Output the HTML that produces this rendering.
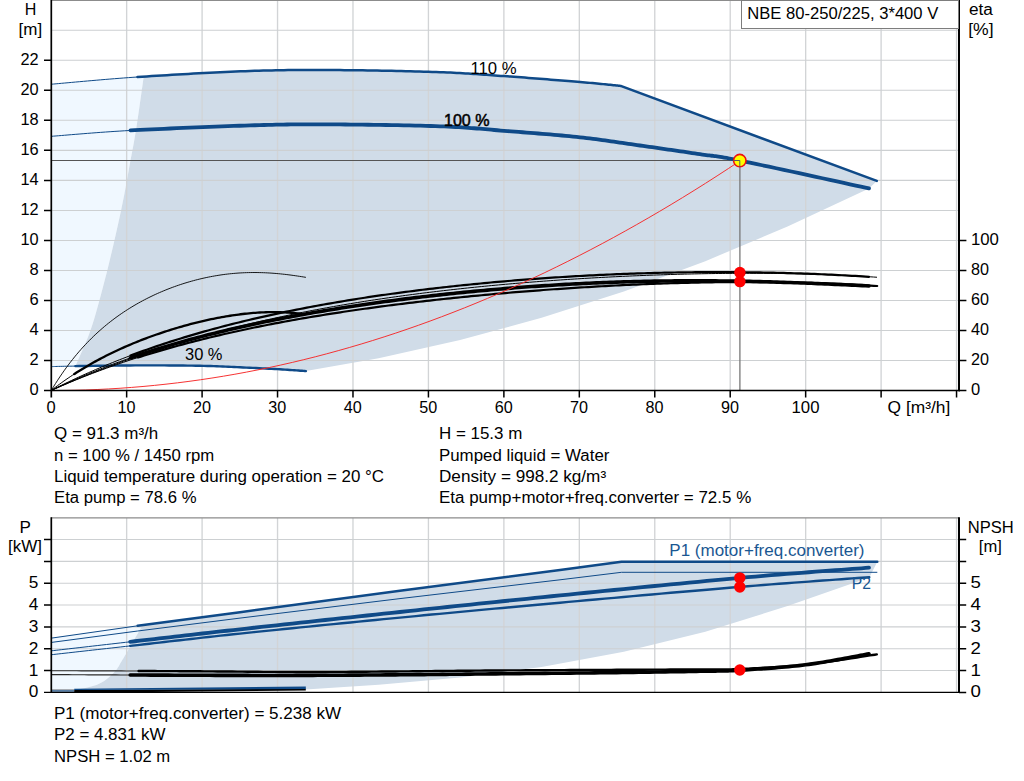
<!DOCTYPE html>
<html><head><meta charset="utf-8"><title>Pump curve</title><style>html,body{margin:0;padding:0;background:#fff}</style></head><body>
<svg width="1024" height="781" viewBox="0 0 1024 781" style="display:block;font-family:'Liberation Sans',sans-serif">
<rect width="1024" height="781" fill="#fff"/>
<path d="M51.60 84.20L53.70 84.02L56.08 83.81L58.73 83.57L61.63 83.31L64.76 83.03L68.11 82.72L71.66 82.40L75.39 82.06L79.29 81.71L83.34 81.35L87.52 80.97L91.82 80.60L96.21 80.22L100.69 79.83L105.24 79.45L109.83 79.07L114.46 78.70L119.10 78.33L123.74 77.98L128.37 77.64L132.96 77.31L137.50 77.00L142.08 76.70L143.70 76.59L143.70 76.80L143.09 81.04L142.28 86.83L141.30 93.74L140.22 101.34L139.10 109.19L137.99 116.87L136.93 123.95L136.00 130.00L135.17 135.06L134.40 139.58L133.66 143.68L132.94 147.51L132.23 151.22L131.52 154.94L130.78 158.82L130.00 163.00L129.20 167.41L128.40 171.90L127.59 176.45L126.77 181.06L125.92 185.73L125.05 190.45L124.15 195.20L123.20 200.00L122.22 204.82L121.21 209.67L120.18 214.56L119.11 219.50L118.01 224.50L116.88 229.58L115.71 234.74L114.50 240.00L113.25 245.39L111.96 250.90L110.63 256.51L109.26 262.19L107.87 267.91L106.44 273.63L104.98 279.34L103.50 285.00L101.99 290.69L100.46 296.46L98.90 302.27L97.31 308.06L95.69 313.78L94.03 319.38L92.34 324.80L90.60 330.00L88.71 335.19L86.61 340.50L84.40 345.78L82.19 350.86L80.09 355.60L78.19 359.82L76.59 363.38L75.40 366.10L75.40 366.10L72.17 366.15L69.25 366.19L66.63 366.24L64.29 366.28L62.19 366.33L60.32 366.37L58.65 366.41L57.16 366.45L55.83 366.49L54.63 366.52L53.54 366.55L52.54 366.58L51.60 366.60Z" fill="#f0f8ff"/>
<path d="M143.70 76.59L146.81 76.39L151.67 76.08L156.64 75.77L161.71 75.45L166.87 75.14L172.10 74.83L177.40 74.52L182.74 74.21L188.11 73.90L193.49 73.61L198.89 73.31L204.27 73.03L209.63 72.76L214.95 72.49L220.22 72.24L225.43 71.99L230.55 71.76L235.59 71.55L240.52 71.35L245.33 71.17L250.00 71.00L254.55 70.85L258.99 70.72L263.34 70.59L267.60 70.49L271.78 70.39L275.90 70.31L279.96 70.23L283.96 70.17L287.93 70.12L291.87 70.08L295.78 70.04L299.68 70.02L303.58 70.00L307.48 69.99L311.40 69.99L315.34 69.99L319.32 70.00L323.33 70.01L327.40 70.03L331.53 70.05L335.72 70.07L340.00 70.10L344.37 70.13L348.85 70.17L353.42 70.22L358.06 70.27L362.77 70.34L367.53 70.41L372.32 70.48L377.14 70.57L381.97 70.66L386.81 70.75L391.62 70.85L396.42 70.95L401.17 71.06L405.87 71.18L410.50 71.30L415.05 71.42L419.52 71.54L423.87 71.67L428.11 71.80L432.22 71.93L436.19 72.06L440.00 72.20L443.64 72.34L447.13 72.48L450.46 72.62L453.66 72.77L456.75 72.92L459.73 73.08L462.61 73.24L465.42 73.40L468.16 73.57L470.85 73.74L473.50 73.91L476.13 74.09L478.74 74.27L481.36 74.46L483.99 74.65L486.65 74.84L489.36 75.04L492.12 75.24L494.95 75.45L497.87 75.66L500.88 75.88L504.00 76.10L507.24 76.33L510.59 76.57L514.04 76.82L517.57 77.08L521.16 77.35L524.82 77.62L528.51 77.90L532.24 78.18L535.98 78.47L539.72 78.76L543.46 79.05L547.17 79.34L550.84 79.63L554.46 79.92L558.01 80.20L561.49 80.48L564.88 80.75L568.17 81.02L571.34 81.28L574.37 81.53L577.26 81.77L580.00 82.00L582.62 82.22L585.18 82.44L587.67 82.66L590.10 82.88L592.46 83.10L594.75 83.31L596.97 83.52L599.11 83.73L601.18 83.93L603.18 84.13L605.10 84.32L606.94 84.50L608.70 84.68L610.38 84.85L611.98 85.02L613.49 85.17L614.92 85.32L616.25 85.46L617.50 85.58L618.66 85.70L619.73 85.81L620.70 85.90L876.80 180.90L869.00 188.40L787.55 226.59L705.32 261.17L623.84 291.40L541.60 317.83L460.12 339.99L378.64 358.13L305.90 371.10L305.90 371.10L304.79 371.02L303.48 370.92L301.98 370.81L300.30 370.69L298.47 370.55L296.49 370.40L294.38 370.25L292.17 370.09L289.86 369.93L287.47 369.77L285.02 369.61L282.53 369.45L280.00 369.30L277.39 369.15L274.62 369.00L271.73 368.84L268.73 368.68L265.64 368.52L262.48 368.36L259.27 368.20L256.03 368.04L252.77 367.89L249.52 367.73L246.30 367.58L243.12 367.44L240.00 367.30L236.98 367.17L234.05 367.03L231.18 366.90L228.35 366.77L225.53 366.64L222.69 366.51L219.80 366.39L216.84 366.27L213.78 366.16L210.60 366.06L207.26 365.97L203.73 365.88L200.00 365.80L196.05 365.73L191.92 365.67L187.61 365.61L183.16 365.56L178.59 365.52L173.91 365.48L169.15 365.45L164.32 365.42L159.46 365.41L154.57 365.39L149.68 365.39L144.82 365.39L140.00 365.40L135.07 365.42L129.91 365.45L124.57 365.49L119.13 365.54L113.63 365.60L108.15 365.66L102.75 365.73L97.48 365.80L92.42 365.86L87.62 365.93L83.14 365.99L79.04 366.05L75.40 366.10L75.40 366.10L76.59 363.38L78.19 359.82L80.09 355.60L82.19 350.86L84.40 345.78L86.61 340.50L88.71 335.19L90.60 330.00L92.34 324.80L94.03 319.38L95.69 313.78L97.31 308.06L98.90 302.27L100.46 296.46L101.99 290.69L103.50 285.00L104.98 279.34L106.44 273.63L107.87 267.91L109.26 262.19L110.63 256.51L111.96 250.90L113.25 245.39L114.50 240.00L115.71 234.74L116.88 229.58L118.01 224.50L119.11 219.50L120.18 214.56L121.21 209.67L122.22 204.82L123.20 200.00L124.15 195.20L125.05 190.45L125.92 185.73L126.77 181.06L127.59 176.45L128.40 171.90L129.20 167.41L130.00 163.00L130.78 158.82L131.52 154.94L132.23 151.22L132.94 147.51L133.66 143.68L134.40 139.58L135.17 135.06L136.00 130.00L136.93 123.95L137.99 116.87L139.10 109.19L140.22 101.34L141.30 93.74L142.28 86.83L143.09 81.04L143.70 76.80Z" fill="#d0dce8"/>
<path d="M51.60 638.10L137.70 625.80L142.50 625.16L142.50 625.20L142.10 625.91L141.58 626.82L140.96 627.90L140.27 629.11L139.52 630.42L138.75 631.78L137.95 633.17L137.17 634.54L136.41 635.86L135.70 637.10L135.02 638.28L134.34 639.45L133.66 640.62L132.98 641.79L132.31 642.96L131.63 644.13L130.95 645.30L130.27 646.46L129.58 647.63L128.90 648.80L128.22 649.97L127.54 651.14L126.87 652.31L126.19 653.48L125.51 654.64L124.83 655.81L124.14 656.98L123.44 658.15L122.73 659.33L122.00 660.50L121.29 661.68L120.62 662.86L119.97 664.04L119.32 665.22L118.64 666.40L117.92 667.58L117.14 668.76L116.27 669.94L115.30 671.12L114.20 672.30L113.00 673.50L111.72 674.73L110.38 675.98L108.95 677.24L107.45 678.48L105.86 679.70L104.19 680.88L102.42 681.99L100.56 683.04L98.60 684.00L96.39 684.89L93.86 685.74L91.11 686.54L88.23 687.29L85.33 687.98L82.50 688.62L79.86 689.19L77.49 689.70L75.50 690.14L74.00 690.50L51.60 690.50Z" fill="#f0f8ff"/>
<path d="M142.50 625.16L240.00 612.20L400.00 590.80L560.00 570.00L621.50 561.80L877.30 561.80L869.30 577.60L787.55 606.04L705.32 631.86L623.84 651.79L541.60 666.89L460.12 677.61L378.64 684.81L305.70 689.50L74.00 690.50L75.50 690.14L77.49 689.70L79.86 689.19L82.50 688.62L85.33 687.98L88.23 687.29L91.11 686.54L93.86 685.74L96.39 684.89L98.60 684.00L100.56 683.04L102.42 681.99L104.19 680.88L105.86 679.70L107.45 678.48L108.95 677.24L110.38 675.98L111.72 674.73L113.00 673.50L114.20 672.30L115.30 671.12L116.27 669.94L117.14 668.76L117.92 667.58L118.64 666.40L119.32 665.22L119.97 664.04L120.62 662.86L121.29 661.68L122.00 660.50L122.73 659.33L123.44 658.15L124.14 656.98L124.83 655.81L125.51 654.64L126.19 653.48L126.87 652.31L127.54 651.14L128.22 649.97L128.90 648.80L129.58 647.63L130.27 646.46L130.95 645.30L131.63 644.13L132.31 642.96L132.98 641.79L133.66 640.62L134.34 639.45L135.02 638.28L135.70 637.10L136.41 635.86L137.17 634.54L137.95 633.17L138.75 631.78L139.52 630.42L140.27 629.11L140.96 627.90L141.58 626.82L142.10 625.91L142.50 625.20Z" fill="#d0dce8"/>
<path d="M126.65 0.5V390 M126.65 518V692 M202.09 0.5V390 M202.09 518V692 M277.54 0.5V390 M277.54 518V692 M352.98 0.5V390 M352.98 518V692 M428.43 0.5V390 M428.43 518V692 M503.88 0.5V390 M503.88 518V692 M579.32 0.5V390 M579.32 518V692 M654.77 0.5V390 M654.77 518V692 M730.21 0.5V390 M730.21 518V692 M805.66 0.5V390 M805.66 518V692 M881.11 0.5V390 M881.11 518V692 M956.55 0.5V390 M956.55 518V692" stroke="#d2d4d6" stroke-width="1.35" fill="none"/>
<path d="M52 360.53H958.5 M52 330.50H958.5 M52 300.48H958.5 M52 270.45H958.5 M52 240.43H958.5 M52 210.40H958.5 M52 180.38H958.5 M52 150.35H958.5 M52 120.33H958.5 M52 90.30H958.5 M52 60.28H958.5 M52 30.25H958.5 M52 670.56H958.5 M52 648.73H958.5 M52 626.89H958.5 M52 605.06H958.5 M52 583.22H958.5 M52 561.39H958.5 M52 539.55H958.5" stroke="#cdd0d2" stroke-width="1.05" fill="none"/>
<path d="M51 0.5H959 M51 517.8H959" stroke="#8c8c8c" stroke-width="1.2" fill="none"/>
<path d="M52 160.5H739.8" stroke="#555" stroke-width="1" fill="none"/>
<path d="M739.9 160.5V390" stroke="#777" stroke-width="1.3" fill="none"/>
<path d="M51.60 84.20L53.70 84.02L56.08 83.81L58.73 83.57L61.63 83.31L64.76 83.03L68.11 82.72L71.66 82.40L75.39 82.06L79.29 81.71L83.34 81.35L87.52 80.97L91.82 80.60L96.21 80.22L100.69 79.83L105.24 79.45L109.83 79.07L114.46 78.70L119.10 78.33L123.74 77.98L128.37 77.64L132.96 77.31L137.50 77.00" stroke="#0f4a88" stroke-width="1" fill="none"/>
<path d="M137.50 77.00L137.50 77.00L142.08 76.70L146.81 76.39L151.67 76.08L156.64 75.77L161.71 75.45L166.87 75.14L172.10 74.83L177.40 74.52L182.74 74.21L188.11 73.90L193.49 73.61L198.89 73.31L204.27 73.03L209.63 72.76L214.95 72.49L220.22 72.24L225.43 71.99L230.55 71.76L235.59 71.55L240.52 71.35L245.33 71.17L250.00 71.00L254.55 70.85L258.99 70.72L263.34 70.59L267.60 70.49L271.78 70.39L275.90 70.31L279.96 70.23L283.96 70.17L287.93 70.12L291.87 70.08L295.78 70.04L299.68 70.02L303.58 70.00L307.48 69.99L311.40 69.99L315.34 69.99L319.32 70.00L323.33 70.01L327.40 70.03L331.53 70.05L335.72 70.07L340.00 70.10L344.37 70.13L348.85 70.17L353.42 70.22L358.06 70.27L362.77 70.34L367.53 70.41L372.32 70.48L377.14 70.57L381.97 70.66L386.81 70.75L391.62 70.85L396.42 70.95L401.17 71.06L405.87 71.18L410.50 71.30L415.05 71.42L419.52 71.54L423.87 71.67L428.11 71.80L432.22 71.93L436.19 72.06L440.00 72.20L443.64 72.34L447.13 72.48L450.46 72.62L453.66 72.77L456.75 72.92L459.73 73.08L462.61 73.24L465.42 73.40L468.16 73.57L470.85 73.74L473.50 73.91L476.13 74.09L478.74 74.27L481.36 74.46L483.99 74.65L486.65 74.84L489.36 75.04L492.12 75.24L494.95 75.45L497.87 75.66L500.88 75.88L504.00 76.10L507.24 76.33L510.59 76.57L514.04 76.82L517.57 77.08L521.16 77.35L524.82 77.62L528.51 77.90L532.24 78.18L535.98 78.47L539.72 78.76L543.46 79.05L547.17 79.34L550.84 79.63L554.46 79.92L558.01 80.20L561.49 80.48L564.88 80.75L568.17 81.02L571.34 81.28L574.37 81.53L577.26 81.77L580.00 82.00L582.62 82.22L585.18 82.44L587.67 82.66L590.10 82.88L592.46 83.10L594.75 83.31L596.97 83.52L599.11 83.73L601.18 83.93L603.18 84.13L605.10 84.32L606.94 84.50L608.70 84.68L610.38 84.85L611.98 85.02L613.49 85.17L614.92 85.32L616.25 85.46L617.50 85.58L618.66 85.70L619.73 85.81L620.70 85.90L876.80 180.90" stroke="#0f4a88" stroke-width="2.5" fill="none" stroke-linecap="round" stroke-linejoin="round"/>
<path d="M51.60 136.30L53.69 136.14L56.06 135.95L58.68 135.74L61.55 135.50L64.64 135.24L67.96 134.96L71.48 134.67L75.19 134.36L79.08 134.05L83.13 133.72L87.33 133.39L91.67 133.05L96.14 132.71L100.71 132.37L105.38 132.04L110.13 131.71L114.95 131.39L119.83 131.08L124.75 130.78L129.70 130.50L130.50 130.46" stroke="#0f4a88" stroke-width="1" fill="none"/>
<path d="M130.50 130.46L134.81 130.22L140.20 129.94L145.84 129.66L151.70 129.37L157.75 129.08L163.96 128.79L170.29 128.50L176.72 128.21L183.21 127.93L189.73 127.65L196.26 127.38L202.76 127.11L209.19 126.85L215.54 126.61L221.77 126.37L227.84 126.15L233.74 125.94L239.41 125.74L244.84 125.56L250.00 125.40L254.87 125.25L259.50 125.12L263.90 125.00L268.10 124.89L272.13 124.79L276.02 124.71L279.79 124.63L283.46 124.57L287.07 124.51L290.64 124.46L294.20 124.42L297.77 124.39L301.39 124.37L305.06 124.36L308.84 124.35L312.72 124.35L316.76 124.35L320.97 124.36L325.37 124.38L330.00 124.40L334.88 124.43L339.99 124.46L345.31 124.50L350.82 124.55L356.47 124.61L362.24 124.67L368.11 124.75L374.05 124.83L380.02 124.91L386.00 125.01L391.96 125.11L397.87 125.21L403.71 125.33L409.44 125.45L415.03 125.57L420.46 125.71L425.71 125.85L430.73 125.99L435.50 126.14L440.00 126.30L444.22 126.46L448.21 126.64L451.98 126.81L455.55 127.00L458.95 127.20L462.20 127.40L465.32 127.60L468.34 127.82L471.26 128.04L474.12 128.26L476.94 128.49L479.74 128.73L482.54 128.97L485.37 129.22L488.23 129.47L491.17 129.73L494.19 129.99L497.32 130.26L500.58 130.53L504.00 130.80L507.55 131.08L511.19 131.36L514.90 131.65L518.69 131.94L522.53 132.24L526.42 132.55L530.35 132.86L534.30 133.17L538.27 133.49L542.25 133.82L546.22 134.15L550.18 134.48L554.11 134.82L558.00 135.16L561.84 135.51L565.63 135.86L569.35 136.21L572.99 136.57L576.55 136.93L580.00 137.30L583.36 137.67L586.65 138.05L589.87 138.43L593.02 138.82L596.12 139.22L599.18 139.62L602.18 140.02L605.15 140.43L608.09 140.85L611.00 141.26L613.89 141.68L616.77 142.10L619.64 142.53L622.50 142.95L625.38 143.38L628.26 143.80L631.15 144.23L634.07 144.65L637.02 145.08L640.00 145.50L643.02 145.93L646.09 146.36L649.19 146.80L652.32 147.24L655.47 147.69L658.63 148.15L661.80 148.60L664.96 149.05L668.11 149.51L671.25 149.96L674.36 150.41L677.44 150.86L680.48 151.31L683.47 151.74L686.41 152.18L689.28 152.60L692.08 153.01L694.81 153.42L697.45 153.82L700.00 154.20L702.35 154.55L704.41 154.84L706.23 155.08L707.86 155.28L709.32 155.46L710.67 155.61L711.94 155.76L713.17 155.90L714.41 156.04L715.69 156.21L717.06 156.39L718.55 156.61L720.22 156.87L722.09 157.18L724.21 157.55L726.62 157.99L729.37 158.50L732.49 159.10L736.02 159.80L740.00 160.60L744.60 161.54L749.88 162.64L755.76 163.88L762.17 165.24L769.02 166.70L776.22 168.24L783.71 169.85L791.38 171.51L799.18 173.20L807.00 174.90L814.77 176.59L822.42 178.25L829.84 179.87L836.98 181.43L843.73 182.90L850.03 184.28L855.79 185.53L860.92 186.65L865.35 187.61L869.00 188.40" stroke="#0f4a88" stroke-width="3.8" fill="none" stroke-linecap="round"/>
<path d="M51.60 366.60L52.54 366.58L53.54 366.55L54.63 366.52L55.83 366.49L57.16 366.45L58.65 366.41L60.32 366.37L62.19 366.33L64.29 366.28L66.63 366.24L69.25 366.19L72.17 366.15L75.40 366.10" stroke="#0f4a88" stroke-width="1" fill="none"/>
<path d="M75.40 366.10L75.40 366.10L79.04 366.05L83.14 365.99L87.62 365.93L92.42 365.86L97.48 365.80L102.75 365.73L108.15 365.66L113.63 365.60L119.13 365.54L124.57 365.49L129.91 365.45L135.07 365.42L140.00 365.40L144.82 365.39L149.68 365.39L154.57 365.39L159.46 365.41L164.32 365.42L169.15 365.45L173.91 365.48L178.59 365.52L183.16 365.56L187.61 365.61L191.92 365.67L196.05 365.73L200.00 365.80L203.73 365.88L207.26 365.97L210.60 366.06L213.78 366.16L216.84 366.27L219.80 366.39L222.69 366.51L225.53 366.64L228.35 366.77L231.18 366.90L234.05 367.03L236.98 367.17L240.00 367.30L243.12 367.44L246.30 367.58L249.52 367.73L252.77 367.89L256.03 368.04L259.27 368.20L262.48 368.36L265.64 368.52L268.73 368.68L271.73 368.84L274.62 369.00L277.39 369.15L280.00 369.30L282.53 369.45L285.02 369.61L287.47 369.77L289.86 369.93L292.17 370.09L294.38 370.25L296.49 370.40L298.47 370.55L300.30 370.69L301.98 370.81L303.48 370.92L304.79 371.02L305.90 371.10" stroke="#0f4a88" stroke-width="2.4" fill="none" stroke-linecap="round"/>
<path d="M51.30 390.40L53.42 386.90L55.54 383.50L57.66 380.20L59.79 376.99L61.91 373.87L64.03 370.83L66.15 367.88L68.27 365.02L70.39 362.23L72.52 359.52L74.64 356.88L76.76 354.31L78.88 351.82L81.00 349.39L83.12 347.03L85.25 344.73L87.37 342.50L89.49 340.32L91.61 338.20L93.73 336.14L95.85 334.13L97.98 332.17L100.10 330.27L102.22 328.41L104.34 326.60L106.46 324.84L108.58 323.12L110.71 321.45L112.83 319.82L114.95 318.23L117.07 316.68L119.19 315.17L121.31 313.70L123.44 312.26L125.56 310.86L127.68 309.49L129.80 308.16L131.92 306.86L134.04 305.59L136.17 304.35L138.29 303.14L140.41 301.97L142.53 300.82L144.65 299.70L146.77 298.60L148.90 297.54L151.02 296.50L153.14 295.48L155.26 294.49L157.38 293.53L159.50 292.59L161.63 291.68L163.75 290.79L165.87 289.92L167.99 289.07L170.11 288.25L172.23 287.45L174.36 286.68L176.48 285.92L178.60 285.19L180.72 284.48L182.84 283.79L184.96 283.12L187.09 282.47L189.21 281.85L191.33 281.24L193.45 280.66L195.57 280.09L197.69 279.55L199.82 279.03L201.94 278.52L204.06 278.04L206.18 277.58L208.30 277.14L210.42 276.72L212.55 276.32L214.67 275.94L216.79 275.58L218.91 275.24L221.03 274.92L223.15 274.62L225.28 274.34L227.40 274.08L229.52 273.84L231.64 273.63L233.76 273.43L235.88 273.25L238.01 273.09L240.13 272.95L242.25 272.83L244.37 272.73L246.49 272.65L248.61 272.59L250.74 272.55L252.86 272.53L254.98 272.53L257.10 272.54L259.22 272.58L261.34 272.63L263.47 272.70L265.59 272.79L267.71 272.90L269.83 273.02L271.95 273.16L274.07 273.32L276.20 273.49L278.32 273.68L280.44 273.89L282.56 274.11L284.68 274.34L286.80 274.59L288.93 274.85L291.05 275.12L293.17 275.41L295.29 275.71L297.41 276.02L299.53 276.34L301.66 276.67L303.78 277.00L305.90 277.35" stroke="#000" stroke-width="0.9" fill="none"/>
<path d="M51.30 390.40L53.40 388.77L55.51 387.17L57.61 385.59L59.72 384.05L61.82 382.52L63.92 381.03L66.03 379.56L68.13 378.11L70.24 376.69L72.34 375.30L74.10 374.15" stroke="#000" stroke-width="1" fill="none"/>
<path d="M74.10 374.15L74.45 373.92L76.55 372.57L78.65 371.25L80.76 369.94L82.86 368.66L84.97 367.39L87.07 366.15L89.17 364.93L91.28 363.73L93.38 362.54L95.49 361.38L97.59 360.23L99.70 359.11L101.80 358.00L103.90 356.91L106.01 355.83L108.11 354.78L110.22 353.74L112.32 352.71L114.42 351.71L116.53 350.71L118.63 349.74L120.74 348.78L122.84 347.83L124.95 346.90L127.05 345.98L129.15 345.08L131.26 344.19L133.36 343.31L135.47 342.45L137.57 341.60L139.68 340.76L141.78 339.94L143.88 339.12L145.99 338.33L148.09 337.54L150.20 336.77L152.30 336.00L154.40 335.25L156.51 334.51L158.61 333.79L160.72 333.07L162.82 332.37L164.93 331.67L167.03 330.99L169.13 330.32L171.24 329.66L173.34 329.01L175.45 328.38L177.55 327.75L179.65 327.14L181.76 326.53L183.86 325.94L185.97 325.35L188.07 324.78L190.18 324.22L192.28 323.67L194.38 323.13L196.49 322.61L198.59 322.09L200.70 321.58L202.80 321.09L204.90 320.61L207.01 320.14L209.11 319.68L211.22 319.23L213.32 318.79L215.43 318.37L217.53 317.95L219.63 317.55L221.74 317.16L223.84 316.79L225.95 316.43L228.05 316.08L230.15 315.74L232.26 315.41L234.36 315.10L236.47 314.81L238.57 314.52L240.68 314.26L242.78 314.00L244.88 313.76L246.99 313.54L249.09 313.33L251.20 313.13L253.30 312.95L255.40 312.79L257.51 312.65L259.61 312.52L261.72 312.40L263.82 312.31L265.93 312.23L268.03 312.17L270.13 312.13L272.24 312.11L274.34 312.11L276.45 312.12L278.55 312.16L280.65 312.22L282.76 312.29L284.86 312.39L286.97 312.51L289.07 312.66L291.18 312.82L293.28 313.01L295.38 313.22L297.49 313.46L299.59 313.72L301.70 314.00L303.80 314.31" stroke="#000" stroke-width="2.3" fill="none" stroke-linecap="round"/>
<path d="M51.30 390.40L54.74 388.86L58.18 387.34L61.62 385.83L65.06 384.34L68.50 382.86L71.94 381.40L75.38 379.95L78.82 378.52L82.26 377.10L85.70 375.70L89.14 374.31L92.59 372.93L96.03 371.57L99.47 370.23L102.91 368.90L106.35 367.58L109.79 366.28L113.23 364.99L116.67 363.71L120.11 362.45L123.55 361.20L126.99 359.97L130.43 358.75L133.87 357.54L137.31 356.34L140.75 355.16L144.19 353.99L147.63 352.83L151.07 351.69L154.51 350.56L157.95 349.44L161.39 348.33L164.83 347.24L168.27 346.16L171.71 345.09L175.16 344.03L178.60 342.98L182.04 341.95L185.48 340.93L188.92 339.91L192.36 338.91L195.80 337.93L199.24 336.95L202.68 335.98L206.12 335.03L209.56 334.08L213.00 333.15L216.44 332.23L219.88 331.31L223.32 330.41L226.76 329.52L230.20 328.64L233.64 327.77L237.08 326.91L240.52 326.06L243.96 325.22L247.40 324.39L250.84 323.57L254.28 322.76L257.73 321.96L261.17 321.17L264.61 320.38L268.05 319.61L271.49 318.85L274.93 318.09L278.37 317.35L281.81 316.61L285.25 315.88L288.69 315.16L292.13 314.45L295.57 313.75L299.01 313.06L302.45 312.38L305.89 311.70L309.33 311.03L312.77 310.37L316.21 309.72L319.65 309.08L323.09 308.44L326.53 307.82L329.97 307.20L333.41 306.58L336.85 305.98L340.30 305.38L343.74 304.79L347.18 304.21L350.62 303.64L354.06 303.07L357.50 302.51L360.94 301.96L364.38 301.41L367.82 300.87L371.26 300.34L374.70 299.82L378.14 299.30L381.58 298.79L385.02 298.28L388.46 297.78L391.90 297.29L395.34 296.81L398.78 296.33L402.22 295.85L405.66 295.39L409.10 294.93L412.54 294.47L415.98 294.02L419.42 293.58L422.87 293.14L426.31 292.71L429.75 292.29L433.19 291.87L436.63 291.46L440.07 291.05L443.51 290.65L446.95 290.25L450.39 289.86L453.83 289.47L457.27 289.09L460.71 288.72L464.15 288.35L467.59 287.98L471.03 287.62L474.47 287.27L477.91 286.92L481.35 286.58L484.79 286.24L488.23 285.90L491.67 285.57L495.11 285.25L498.55 284.93L501.99 284.62L505.44 284.31L508.88 284.00L512.32 283.70L515.76 283.40L519.20 283.11L522.64 282.83L526.08 282.54L529.52 282.27L532.96 281.99L536.40 281.72L539.84 281.46L543.28 281.20L546.72 280.94L550.16 280.69L553.60 280.45L557.04 280.20L560.48 279.96L563.92 279.73L567.36 279.50L570.80 279.28L574.24 279.05L577.68 278.84L581.12 278.62L584.56 278.41L588.00 278.21L591.45 278.01L594.89 277.81L598.33 277.62L601.77 277.43L605.21 277.25L608.65 277.07L612.09 276.89L615.53 276.72L618.97 276.55L622.41 276.39L625.85 276.23L629.29 276.07L632.73 275.92L636.17 275.77L639.61 275.63L643.05 275.49L646.49 275.35L649.93 275.22L653.37 275.10L656.81 274.97L660.25 274.86L663.69 274.74L667.13 274.63L670.57 274.52L674.02 274.42L677.46 274.32L680.90 274.23L684.34 274.14L687.78 274.06L691.22 273.98L694.66 273.90L698.10 273.83L701.54 273.76L704.98 273.70L708.42 273.64L711.86 273.58L715.30 273.53L718.74 273.49L722.18 273.45L725.62 273.41L729.06 273.38L732.50 273.36L735.94 273.33L739.38 273.32L742.82 273.30L746.26 273.30L749.70 273.30L753.14 273.30L756.59 273.31L760.03 273.32L763.47 273.34L766.91 273.36L770.35 273.39L773.79 273.42L777.23 273.46L780.67 273.51L784.11 273.56L787.55 273.61L790.99 273.67L794.43 273.74L797.87 273.81L801.31 273.89L804.75 273.97L808.19 274.06L811.63 274.16L815.07 274.26L818.51 274.37L821.95 274.49L825.39 274.61L828.83 274.74L832.27 274.87L835.72 275.01L839.16 275.16L842.60 275.31L846.04 275.47L849.48 275.64L852.92 275.82L856.36 276.00L859.80 276.19L863.24 276.39L866.68 276.59L870.12 276.80L873.56 277.02L877.00 277.25" stroke="#000" stroke-width="1" fill="none"/>
<path d="M51.30 390.40L54.71 388.67L58.11 386.96L61.52 385.28L64.93 383.61L68.34 381.97L71.74 380.35L75.15 378.75L78.56 377.18L81.96 375.62L85.37 374.09L88.78 372.57L92.19 371.08L95.59 369.60L99.00 368.15L102.41 366.71L105.81 365.29L109.22 363.90L112.63 362.52L116.03 361.16L119.44 359.81L122.85 358.49L126.26 357.18L129.66 355.89L130.50 355.58" stroke="#000" stroke-width="1" fill="none"/>
<path d="M130.50 355.58L133.07 354.62L136.48 353.36L139.88 352.12L143.29 350.90L146.70 349.69L150.11 348.50L153.51 347.32L156.92 346.16L160.33 345.02L163.73 343.89L167.14 342.77L170.55 341.67L173.95 340.59L177.36 339.51L180.77 338.46L184.18 337.41L187.58 336.38L190.99 335.37L194.40 334.36L197.80 333.37L201.21 332.40L204.62 331.43L208.03 330.48L211.43 329.54L214.84 328.61L218.25 327.70L221.65 326.80L225.06 325.91L228.47 325.03L231.88 324.16L235.28 323.30L238.69 322.45L242.10 321.62L245.50 320.79L248.91 319.98L252.32 319.18L255.73 318.38L259.13 317.60L262.54 316.83L265.95 316.07L269.35 315.31L272.76 314.57L276.17 313.84L279.57 313.11L282.98 312.40L286.39 311.69L289.80 310.99L293.20 310.31L296.61 309.63L300.02 308.96L303.42 308.30L306.83 307.64L310.24 307.00L313.65 306.36L317.05 305.73L320.46 305.11L323.87 304.50L327.27 303.89L330.68 303.30L334.09 302.71L337.50 302.12L340.90 301.55L344.31 300.98L347.72 300.42L351.12 299.87L354.53 299.32L357.94 298.78L361.34 298.25L364.75 297.73L368.16 297.21L371.57 296.70L374.97 296.19L378.38 295.69L381.79 295.20L385.19 294.72L388.60 294.24L392.01 293.76L395.42 293.30L398.82 292.84L402.23 292.38L405.64 291.93L409.04 291.49L412.45 291.05L415.86 290.62L419.27 290.20L422.67 289.78L426.08 289.36L429.49 288.95L432.89 288.55L436.30 288.15L439.71 287.76L443.11 287.38L446.52 287.00L449.93 286.62L453.34 286.25L456.74 285.89L460.15 285.53L463.56 285.17L466.96 284.82L470.37 284.48L473.78 284.14L477.19 283.80L480.59 283.48L484.00 283.15L487.41 282.83L490.81 282.52L494.22 282.21L497.63 281.90L501.04 281.60L504.44 281.31L507.85 281.02L511.26 280.74L514.66 280.45L518.07 280.18L521.48 279.91L524.88 279.64L528.29 279.38L531.70 279.12L535.11 278.87L538.51 278.62L541.92 278.38L545.33 278.14L548.73 277.91L552.14 277.68L555.55 277.46L558.96 277.24L562.36 277.02L565.77 276.81L569.18 276.61L572.58 276.40L575.99 276.21L579.40 276.02L582.80 275.83L586.21 275.64L589.62 275.47L593.03 275.29L596.43 275.12L599.84 274.96L603.25 274.80L606.65 274.64L610.06 274.49L613.47 274.34L616.88 274.20L620.28 274.06L623.69 273.93L627.10 273.80L630.50 273.68L633.91 273.56L637.32 273.44L640.73 273.33L644.13 273.23L647.54 273.13L650.95 273.03L654.35 272.94L657.76 272.85L661.17 272.77L664.57 272.69L667.98 272.62L671.39 272.55L674.80 272.48L678.20 272.42L681.61 272.37L685.02 272.32L688.42 272.27L691.83 272.23L695.24 272.20L698.65 272.16L702.05 272.14L705.46 272.12L708.87 272.10L712.27 272.09L715.68 272.08L719.09 272.08L722.50 272.08L725.90 272.08L729.31 272.10L732.72 272.11L736.12 272.13L739.53 272.16L742.94 272.19L746.35 272.23L749.75 272.27L753.16 272.31L756.57 272.36L759.97 272.42L763.38 272.48L766.79 272.54L770.19 272.61L773.60 272.69L777.01 272.77L780.42 272.85L783.82 272.94L787.23 273.04L790.64 273.14L794.04 273.24L797.45 273.35L800.86 273.46L804.27 273.58L807.67 273.71L811.08 273.84L814.49 273.97L817.89 274.11L821.30 274.25L824.71 274.40L828.12 274.56L831.52 274.72L834.93 274.88L838.34 275.05L841.74 275.23L845.15 275.41L848.56 275.59L851.96 275.78L855.37 275.97L858.78 276.17L862.19 276.38L865.59 276.59L869.00 276.80" stroke="#000" stroke-width="2.2" fill="none" stroke-linecap="round"/>
<path d="M51.30 390.40L54.74 388.87L58.18 387.36L61.62 385.87L65.06 384.41L68.51 382.96L71.95 381.53L75.39 380.12L78.83 378.73L82.27 377.35L85.71 376.00L89.15 374.66L92.59 373.34L96.04 372.04L99.48 370.76L102.92 369.49L106.36 368.25L109.80 367.01L113.24 365.80L116.68 364.60L120.12 363.41L123.57 362.24L127.01 361.09L130.45 359.95L133.89 358.83L137.33 357.72L138.00 357.51" stroke="#000" stroke-width="1" fill="none"/>
<path d="M138.00 357.51L140.77 356.63L144.21 355.55L147.66 354.49L151.10 353.44L154.54 352.40L157.98 351.38L161.42 350.37L164.86 349.37L168.30 348.39L171.74 347.42L175.19 346.46L178.63 345.52L182.07 344.59L185.51 343.66L188.95 342.76L192.39 341.86L195.83 340.97L199.27 340.10L202.72 339.24L206.16 338.39L209.60 337.55L213.04 336.72L216.48 335.90L219.92 335.09L223.36 334.29L226.80 333.50L230.25 332.72L233.69 331.96L237.13 331.20L240.57 330.45L244.01 329.71L247.45 328.98L250.89 328.26L254.33 327.54L257.78 326.84L261.22 326.14L264.66 325.46L268.10 324.78L271.54 324.11L274.98 323.45L278.42 322.80L281.86 322.15L285.31 321.51L288.75 320.88L292.19 320.26L295.63 319.65L299.07 319.04L302.51 318.44L305.95 317.85L309.39 317.26L312.84 316.68L316.28 316.11L319.72 315.55L323.16 314.99L326.60 314.44L330.04 313.89L333.48 313.35L336.92 312.82L340.37 312.29L343.81 311.77L347.25 311.26L350.69 310.75L354.13 310.25L357.57 309.75L361.01 309.26L364.45 308.78L367.90 308.30L371.34 307.82L374.78 307.36L378.22 306.89L381.66 306.43L385.10 305.98L388.54 305.53L391.98 305.09L395.43 304.65L398.87 304.22L402.31 303.80L405.75 303.37L409.19 302.96L412.63 302.54L416.07 302.13L419.51 301.73L422.96 301.33L426.40 300.94L429.84 300.55L433.28 300.16L436.72 299.78L440.16 299.41L443.60 299.03L447.04 298.67L450.49 298.30L453.93 297.94L457.37 297.59L460.81 297.24L464.25 296.89L467.69 296.55L471.13 296.21L474.57 295.88L478.02 295.55L481.46 295.22L484.90 294.90L488.34 294.58L491.78 294.27L495.22 293.96L498.66 293.65L502.10 293.35L505.55 293.05L508.99 292.76L512.43 292.47L515.87 292.18L519.31 291.90L522.75 291.62L526.19 291.34L529.63 291.07L533.08 290.80L536.52 290.54L539.96 290.28L543.40 290.02L546.84 289.77L550.28 289.52L553.72 289.27L557.16 289.03L560.61 288.80L564.05 288.56L567.49 288.33L570.93 288.11L574.37 287.88L577.81 287.67L581.25 287.45L584.69 287.24L588.13 287.03L591.58 286.83L595.02 286.63L598.46 286.44L601.90 286.25L605.34 286.06L608.78 285.88L612.22 285.70L615.66 285.52L619.11 285.35L622.55 285.18L625.99 285.02L629.43 284.86L632.87 284.70L636.31 284.55L639.75 284.40L643.20 284.26L646.64 284.12L650.08 283.99L653.52 283.86L656.96 283.73L660.40 283.61L663.84 283.49L667.28 283.38L670.73 283.27L674.17 283.16L677.61 283.06L681.05 282.97L684.49 282.87L687.93 282.79L691.37 282.70L694.81 282.63L698.25 282.55L701.70 282.48L705.14 282.42L708.58 282.36L712.02 282.30L715.46 282.25L718.90 282.21L722.34 282.17L725.79 282.13L729.23 282.10L732.67 282.08L736.11 282.06L739.55 282.04L742.99 282.03L746.43 282.02L749.87 282.02L753.31 282.03L756.76 282.04L760.20 282.05L763.64 282.07L767.08 282.10L770.52 282.13L773.96 282.17L777.40 282.21L780.85 282.26L784.29 282.31L787.73 282.37L791.17 282.43L794.61 282.50L798.05 282.58L801.49 282.66L804.93 282.75L808.38 282.84L811.82 282.94L815.26 283.04L818.70 283.15L822.14 283.27L825.58 283.39L829.02 283.52L832.46 283.66L835.90 283.80L839.35 283.95L842.79 284.10L846.23 284.26L849.67 284.43L853.11 284.60L856.55 284.78L859.99 284.97L863.44 285.16L866.88 285.36L870.32 285.56L873.76 285.78L877.20 285.99" stroke="#000" stroke-width="2.2" fill="none" stroke-linecap="round"/>
<path d="M51.30 390.40L54.71 388.76L58.11 387.15L61.52 385.56L64.93 383.99L68.34 382.45L71.74 380.93L75.15 379.43L78.56 377.95L81.96 376.50L85.37 375.06L88.78 373.65L92.19 372.25L95.59 370.88L99.00 369.53L102.41 368.19L105.81 366.88L109.22 365.58L112.63 364.30L116.03 363.04L119.44 361.80L122.85 360.58L126.26 359.37L129.66 358.18L130.50 357.89" stroke="#000" stroke-width="1" fill="none"/>
<path d="M130.50 357.89L133.07 357.00L136.48 355.85L139.88 354.71L143.29 353.58L146.70 352.47L150.11 351.37L153.51 350.29L156.92 349.23L160.33 348.18L163.73 347.14L167.14 346.12L170.55 345.11L173.95 344.12L177.36 343.13L180.77 342.17L184.18 341.21L187.58 340.27L190.99 339.34L194.40 338.42L197.80 337.51L201.21 336.62L204.62 335.73L208.03 334.86L211.43 334.00L214.84 333.15L218.25 332.31L221.65 331.48L225.06 330.66L228.47 329.86L231.88 329.06L235.28 328.27L238.69 327.50L242.10 326.73L245.50 325.97L248.91 325.22L252.32 324.48L255.73 323.75L259.13 323.03L262.54 322.32L265.95 321.61L269.35 320.92L272.76 320.23L276.17 319.55L279.57 318.88L282.98 318.22L286.39 317.56L289.80 316.91L293.20 316.27L296.61 315.64L300.02 315.02L303.42 314.40L306.83 313.79L310.24 313.19L313.65 312.59L317.05 312.00L320.46 311.42L323.87 310.85L327.27 310.28L330.68 309.72L334.09 309.16L337.50 308.61L340.90 308.07L344.31 307.54L347.72 307.01L351.12 306.48L354.53 305.97L357.94 305.45L361.34 304.95L364.75 304.45L368.16 303.96L371.57 303.47L374.97 302.99L378.38 302.51L381.79 302.04L385.19 301.58L388.60 301.12L392.01 300.67L395.42 300.22L398.82 299.78L402.23 299.34L405.64 298.91L409.04 298.48L412.45 298.06L415.86 297.65L419.27 297.24L422.67 296.83L426.08 296.43L429.49 296.04L432.89 295.65L436.30 295.26L439.71 294.89L443.11 294.51L446.52 294.14L449.93 293.78L453.34 293.42L456.74 293.07L460.15 292.72L463.56 292.38L466.96 292.04L470.37 291.71L473.78 291.38L477.19 291.06L480.59 290.74L484.00 290.42L487.41 290.12L490.81 289.81L494.22 289.52L497.63 289.22L501.04 288.93L504.44 288.65L507.85 288.37L511.26 288.10L514.66 287.83L518.07 287.57L521.48 287.31L524.88 287.06L528.29 286.81L531.70 286.57L535.11 286.33L538.51 286.10L541.92 285.87L545.33 285.64L548.73 285.43L552.14 285.21L555.55 285.01L558.96 284.80L562.36 284.60L565.77 284.41L569.18 284.22L572.58 284.04L575.99 283.86L579.40 283.69L582.80 283.52L586.21 283.36L589.62 283.20L593.03 283.05L596.43 282.90L599.84 282.76L603.25 282.62L606.65 282.49L610.06 282.36L613.47 282.24L616.88 282.12L620.28 282.01L623.69 281.90L627.10 281.80L630.50 281.70L633.91 281.61L637.32 281.53L640.73 281.44L644.13 281.37L647.54 281.30L650.95 281.23L654.35 281.17L657.76 281.11L661.17 281.06L664.57 281.01L667.98 280.97L671.39 280.93L674.80 280.90L678.20 280.88L681.61 280.85L685.02 280.84L688.42 280.83L691.83 280.82L695.24 280.82L698.65 280.82L702.05 280.82L705.46 280.84L708.87 280.85L712.27 280.87L715.68 280.90L719.09 280.93L722.50 280.97L725.90 281.01L729.31 281.05L732.72 281.10L736.12 281.15L739.53 281.21L742.94 281.27L746.35 281.34L749.75 281.41L753.16 281.48L756.57 281.56L759.97 281.64L763.38 281.73L766.79 281.82L770.19 281.91L773.60 282.01L777.01 282.11L780.42 282.22L783.82 282.33L787.23 282.44L790.64 282.56L794.04 282.68L797.45 282.80L800.86 282.93L804.27 283.06L807.67 283.19L811.08 283.32L814.49 283.46L817.89 283.60L821.30 283.75L824.71 283.89L828.12 284.04L831.52 284.19L834.93 284.35L838.34 284.50L841.74 284.66L845.15 284.82L848.56 284.98L851.96 285.14L855.37 285.30L858.78 285.47L862.19 285.64L865.59 285.80L869.00 285.97" stroke="#000" stroke-width="3.6" fill="none" stroke-linecap="round"/>
<path d="M51.20 390.55L62.68 390.49L74.16 390.29L85.64 389.98L97.12 389.53L108.60 388.95L120.08 388.25L131.56 387.42L143.04 386.47L154.52 385.38L166.00 384.17L177.48 382.83L188.96 381.36L200.44 379.77L211.93 378.04L223.41 376.19L234.89 374.22L246.37 372.11L257.85 369.88L269.33 367.52L280.81 365.03L292.29 362.41L303.77 359.67L315.25 356.80L326.73 353.80L338.21 350.67L349.69 347.42L361.17 344.04L372.65 340.53L384.13 336.89L395.61 333.13L407.09 329.24L418.57 325.22L430.05 321.07L441.53 316.79L453.01 312.39L464.49 307.86L475.97 303.20L487.45 298.42L498.93 293.51L510.41 288.46L521.90 283.30L533.38 278.00L544.86 272.58L556.34 267.03L567.82 261.35L579.30 255.54L590.78 249.61L602.26 243.55L613.74 237.36L625.22 231.04L636.70 224.60L648.18 218.03L659.66 211.33L671.14 204.50L682.62 197.55L694.10 190.46L705.58 183.25L717.06 175.92L728.54 168.45L740.02 160.86" stroke="#f52828" stroke-width="0.95" fill="none"/>
<circle cx="739.8" cy="160.6" r="6.2" fill="#ffff00" stroke="#ee1111" stroke-width="1.6"/>
<path d="M733.5 160.5H739.8V167" stroke="#5a5a5a" stroke-width="1" fill="none"/>
<circle cx="739.9" cy="272.5" r="5.7" fill="#ff0000"/><circle cx="739.9" cy="281.6" r="5.7" fill="#ff0000"/>
<path d="M51.60 642.40L137.70 631.00L240.00 618.10L400.00 598.60L560.00 579.80L621.50 572.30L877.30 572.30" stroke="#0f4a88" stroke-width="1" fill="none"/>
<path d="M51.60 638.10L137.70 625.80" stroke="#0f4a88" stroke-width="1" fill="none"/>
<path d="M137.70 625.80L137.70 625.80L240.00 612.20L400.00 590.80L560.00 570.00L621.50 561.80L877.30 561.80" stroke="#0f4a88" stroke-width="2.5" fill="none" stroke-linecap="round" stroke-linejoin="round"/>
<path d="M51.60 654.70L53.72 654.46L56.14 654.19L58.83 653.89L61.79 653.56L64.99 653.20L68.42 652.82L72.06 652.41L75.88 651.98L79.88 651.53L84.04 651.07L88.33 650.59L92.74 650.09L97.25 649.59L101.85 649.07L106.51 648.55L111.23 648.02L115.97 647.49L120.72 646.96L125.47 646.43L130.20 645.90" stroke="#0f4a88" stroke-width="1" fill="none"/>
<path d="M130.20 645.90L130.20 645.90L134.93 645.37L139.69 644.83L144.50 644.28L149.36 643.72L154.28 643.16L159.27 642.58L164.32 642.00L169.46 641.41L174.69 640.81L180.01 640.20L185.44 639.58L190.97 638.95L196.62 638.32L202.39 637.67L208.29 637.02L214.33 636.35L220.51 635.68L226.85 635.00L233.34 634.30L240.00 633.60L246.87 632.88L253.97 632.14L261.28 631.39L268.79 630.62L276.47 629.83L284.31 629.04L292.29 628.23L300.39 627.41L308.58 626.59L316.86 625.76L325.20 624.93L333.59 624.10L342.00 623.27L350.42 622.44L358.82 621.61L367.20 620.79L375.52 619.98L383.77 619.17L391.94 618.38L400.00 617.60L407.98 616.83L415.91 616.07L423.81 615.31L431.68 614.56L439.53 613.82L447.37 613.08L455.20 612.34L463.04 611.60L470.89 610.87L478.75 610.14L486.64 609.40L494.56 608.67L502.52 607.94L510.53 607.20L518.59 606.46L526.72 605.72L534.92 604.97L543.19 604.22L551.55 603.46L560.00 602.70L568.61 601.92L577.42 601.13L586.40 600.32L595.53 599.50L604.78 598.67L614.13 597.83L623.54 596.99L632.99 596.15L642.46 595.31L651.92 594.47L661.34 593.64L670.69 592.82L679.95 592.01L689.10 591.22L698.10 590.44L706.92 589.68L715.56 588.95L723.96 588.24L732.12 587.55L740.00 586.90L747.76 586.27L755.57 585.64L763.38 585.02L771.17 584.41L778.92 583.82L786.59 583.24L794.15 582.67L801.58 582.12L808.84 581.58L815.90 581.06L822.74 580.57L829.32 580.09L835.62 579.63L841.61 579.20L847.25 578.80L852.53 578.42L857.40 578.07L861.83 577.75L865.81 577.46L869.30 577.20" stroke="#0f4a88" stroke-width="2.4" fill="none" stroke-linecap="round" stroke-linejoin="round"/>
<path d="M51.60 650.80L53.72 650.56L56.14 650.28L58.83 649.97L61.79 649.63L64.99 649.26L68.42 648.87L72.06 648.45L75.88 648.02L79.88 647.56L84.04 647.08L88.33 646.59L92.74 646.08L97.25 645.57L101.85 645.04L106.51 644.51L111.23 643.97L115.97 643.43L120.72 642.88L125.47 642.34L130.20 641.80" stroke="#0f4a88" stroke-width="1" fill="none"/>
<path d="M130.20 641.80L130.20 641.80L134.93 641.26L139.69 640.71L144.50 640.16L149.36 639.60L154.28 639.03L159.27 638.46L164.32 637.87L169.46 637.28L174.69 636.68L180.01 636.07L185.44 635.45L190.97 634.81L196.62 634.17L202.39 633.51L208.29 632.84L214.33 632.16L220.51 631.47L226.85 630.76L233.34 630.04L240.00 629.30L246.87 628.54L253.97 627.76L261.28 626.96L268.79 626.14L276.47 625.30L284.31 624.44L292.29 623.57L300.39 622.69L308.58 621.80L316.86 620.91L325.20 620.00L333.59 619.10L342.00 618.19L350.42 617.29L358.82 616.39L367.20 615.49L375.52 614.60L383.77 613.72L391.94 612.85L400.00 612.00L407.98 611.16L415.91 610.32L423.81 609.48L431.68 608.65L439.53 607.82L447.37 607.00L455.20 606.17L463.04 605.35L470.89 604.53L478.75 603.71L486.64 602.89L494.56 602.07L502.52 601.25L510.53 600.42L518.59 599.60L526.72 598.77L534.92 597.93L543.19 597.09L551.55 596.25L560.00 595.40L568.61 594.54L577.42 593.65L586.40 592.75L595.54 591.84L604.79 590.92L614.14 589.99L623.55 589.05L633.01 588.11L642.48 587.18L651.94 586.25L661.36 585.33L670.71 584.42L679.97 583.52L689.12 582.64L698.12 581.78L706.94 580.95L715.57 580.14L723.98 579.36L732.13 578.61L740.00 577.90L747.75 577.21L755.55 576.54L763.35 575.88L771.13 575.23L778.86 574.60L786.51 573.98L794.06 573.38L801.46 572.80L808.70 572.25L815.75 571.71L822.57 571.19L829.14 570.70L835.42 570.23L841.39 569.78L847.02 569.36L852.27 568.97L857.13 568.61L861.55 568.27L865.52 567.97L869.00 567.70" stroke="#0f4a88" stroke-width="3.8" fill="none" stroke-linecap="round" stroke-linejoin="round"/>
<path d="M52 689.9H74" stroke="#8a8f96" stroke-width="1.2" fill="none"/>
<path d="M52 691H74" stroke="#0f4a88" stroke-width="1.2" fill="none"/>
<path d="M74.2 690L305.8 688.8V690.6L74.2 692.8Z" fill="#000"/>
<path d="M74.2 688.7L305.8 686.6V689L74.2 690.1Z" fill="#0f4a88"/>
<path d="M51.60 670.70L54.02 670.71L56.89 670.72L60.18 670.73L63.84 670.74L67.83 670.75L72.11 670.77L76.64 670.78L81.36 670.80L86.25 670.81L91.26 670.83L96.35 670.85L101.47 670.87L106.58 670.88L111.64 670.90L116.61 670.92L121.45 670.94L126.11 670.95L130.55 670.97L134.72 670.98L138.60 671.00" stroke="#2a2a2a" stroke-width="1.15" fill="none"/>
<path d="M138.60 671.00L138.60 671.00L142.20 671.01L145.60 671.03L148.83 671.04L151.90 671.05L154.85 671.07L157.69 671.08L160.45 671.09L163.15 671.10L165.82 671.11L168.49 671.13L171.17 671.14L173.89 671.15L176.68 671.17L179.55 671.18L182.54 671.20L185.66 671.21L188.94 671.23L192.41 671.25L196.09 671.28L200.00 671.30L204.13 671.33L208.44 671.36L212.91 671.40L217.53 671.44L222.29 671.48L227.16 671.52L232.15 671.57L237.22 671.61L242.37 671.66L247.59 671.71L252.85 671.75L258.15 671.79L263.46 671.84L268.78 671.87L274.10 671.91L279.38 671.94L284.63 671.96L289.83 671.98L294.95 671.99L300.00 672.00L305.02 672.00L310.09 671.99L315.19 671.98L320.32 671.97L325.47 671.95L330.63 671.92L335.80 671.89L340.96 671.86L346.11 671.83L351.25 671.79L356.36 671.76L361.44 671.72L366.48 671.68L371.47 671.64L376.41 671.59L381.28 671.55L386.08 671.51L390.81 671.47L395.45 671.44L400.00 671.40L404.40 671.36L408.63 671.33L412.70 671.29L416.64 671.25L420.47 671.21L424.21 671.17L427.89 671.13L431.52 671.09L435.13 671.05L438.75 671.01L442.39 670.96L446.08 670.92L449.84 670.88L453.69 670.84L457.66 670.80L461.76 670.76L466.02 670.72L470.47 670.68L475.12 670.64L480.00 670.60L485.12 670.56L490.47 670.53L496.02 670.49L501.76 670.45L507.66 670.41L513.69 670.38L519.84 670.34L526.08 670.30L532.39 670.27L538.75 670.23L545.13 670.20L551.52 670.16L557.89 670.13L564.21 670.09L570.47 670.06L576.64 670.03L582.70 669.99L588.63 669.96L594.40 669.93L600.00 669.90L605.52 669.87L611.08 669.84L616.66 669.81L622.24 669.79L627.81 669.76L633.36 669.73L638.87 669.71L644.32 669.68L649.70 669.66L655.00 669.63L660.20 669.61L665.28 669.58L670.23 669.56L675.04 669.54L679.69 669.51L684.16 669.49L688.44 669.47L692.52 669.45L696.38 669.42L700.00 669.40L703.32 669.38L706.32 669.37L709.01 669.37L711.43 669.38L713.62 669.39L715.61 669.40L717.42 669.41L719.10 669.42L720.66 669.44L722.16 669.44L723.61 669.45L725.04 669.44L726.50 669.43L728.02 669.41L729.61 669.38L731.33 669.33L733.19 669.28L735.24 669.20L737.50 669.11L740.00 669.00L742.69 668.88L745.49 668.75L748.39 668.61L751.38 668.47L754.45 668.32L757.59 668.16L760.81 667.99L764.09 667.81L767.42 667.62L770.79 667.41L774.21 667.20L777.66 666.97L781.13 666.73L784.62 666.47L788.12 666.20L791.62 665.92L795.12 665.61L798.60 665.29L802.06 664.96L805.50 664.60L809.02 664.21L812.72 663.77L816.56 663.29L820.53 662.77L824.59 662.22L828.71 661.64L832.86 661.05L837.02 660.45L841.16 659.84L845.24 659.23L849.24 658.62L853.14 658.02L856.89 657.45L860.47 656.89L863.85 656.37L867.01 655.88L869.91 655.43L872.53 655.03L874.84 654.69L876.80 654.40" stroke="#000" stroke-width="2.4" fill="none" stroke-linecap="round"/>
<path d="M51.60 674.60L53.72 674.61L56.14 674.62L58.83 674.64L61.79 674.65L64.99 674.67L68.42 674.69L72.06 674.71L75.88 674.73L79.88 674.75L84.04 674.78L88.33 674.80L92.74 674.82L97.25 674.84L101.85 674.87L106.51 674.89L111.23 674.91L115.97 674.94L120.72 674.96L125.47 674.98L130.20 675.00" stroke="#2a2a2a" stroke-width="1.15" fill="none"/>
<path d="M130.20 675.00L130.20 675.00L135.05 675.02L140.14 675.04L145.46 675.06L150.96 675.09L156.62 675.11L162.42 675.13L168.31 675.16L174.26 675.18L180.26 675.20L186.26 675.22L192.24 675.25L198.17 675.27L204.01 675.29L209.74 675.31L215.32 675.33L220.73 675.35L225.93 675.36L230.90 675.38L235.60 675.39L240.00 675.40L244.08 675.41L247.84 675.42L251.32 675.43L254.55 675.44L257.56 675.44L260.40 675.45L263.09 675.45L265.67 675.46L268.16 675.46L270.61 675.46L273.05 675.46L275.51 675.46L278.03 675.46L280.63 675.46L283.35 675.45L286.24 675.44L289.31 675.44L292.60 675.43L296.16 675.41L300.00 675.40L304.12 675.38L308.47 675.37L313.02 675.34L317.76 675.32L322.66 675.30L327.69 675.27L332.84 675.24L338.08 675.21L343.39 675.18L348.75 675.15L354.13 675.12L359.52 675.08L364.89 675.05L370.21 675.01L375.47 674.98L380.64 674.94L385.70 674.91L390.63 674.87L395.40 674.84L400.00 674.80L404.40 674.76L408.63 674.73L412.70 674.69L416.64 674.66L420.47 674.62L424.21 674.59L427.89 674.55L431.52 674.51L435.13 674.48L438.75 674.44L442.39 674.40L446.08 674.36L449.84 674.32L453.69 674.28L457.66 674.23L461.76 674.19L466.02 674.14L470.47 674.10L475.12 674.05L480.00 674.00L485.12 673.95L490.47 673.90L496.02 673.84L501.76 673.79L507.66 673.74L513.69 673.68L519.84 673.62L526.08 673.56L532.39 673.50L538.75 673.44L545.13 673.38L551.52 673.32L557.89 673.26L564.21 673.19L570.47 673.13L576.64 673.07L582.70 673.00L588.63 672.93L594.40 672.87L600.00 672.80L605.52 672.73L611.08 672.66L616.66 672.59L622.24 672.51L627.81 672.44L633.36 672.36L638.87 672.28L644.32 672.20L649.70 672.12L655.00 672.04L660.20 671.96L665.28 671.89L670.23 671.81L675.04 671.73L679.69 671.65L684.16 671.58L688.44 671.51L692.52 671.44L696.38 671.37L700.00 671.30L703.32 671.24L706.32 671.19L709.01 671.15L711.43 671.12L713.62 671.10L715.61 671.08L717.42 671.06L719.10 671.04L720.66 671.02L722.16 670.99L723.61 670.97L725.04 670.93L726.50 670.89L728.02 670.83L729.61 670.77L731.33 670.69L733.19 670.59L735.24 670.48L737.50 670.35L740.00 670.20L742.70 670.03L745.53 669.86L748.46 669.68L751.50 669.48L754.63 669.28L757.84 669.07L761.12 668.85L764.46 668.62L767.85 668.37L771.28 668.12L774.74 667.85L778.22 667.57L781.71 667.28L785.19 666.97L788.67 666.64L792.12 666.31L795.54 665.95L798.92 665.59L802.24 665.20L805.50 664.80L808.80 664.36L812.22 663.88L815.74 663.35L819.34 662.78L823.00 662.19L826.70 661.57L830.40 660.93L834.09 660.28L837.75 659.62L841.34 658.96L844.86 658.31L848.27 657.68L851.55 657.06L854.68 656.47L857.64 655.91L860.40 655.39L862.94 654.91L865.23 654.48L867.26 654.11L869.00 653.80" stroke="#000" stroke-width="3.6" fill="none" stroke-linecap="round"/>
<circle cx="739.8" cy="577.9" r="5.7" fill="#ff0000"/><circle cx="739.8" cy="587" r="5.7" fill="#ff0000"/><circle cx="739.8" cy="670" r="5.7" fill="#ff0000"/>
<path d="M51.3 0V397.6 M51.3 517.2V693" stroke="#000" stroke-width="1.7" fill="none"/>
<path d="M959 0V391.2 M959 517.2V693" stroke="#000" stroke-width="2" fill="none"/>
<path d="M44 390.5H960 M44 692.4H960" stroke="#000" stroke-width="1.35" fill="none"/>
<path d="M44 360.53H51.3 M44 330.50H51.3 M44 300.48H51.3 M44 270.45H51.3 M44 240.43H51.3 M44 210.40H51.3 M44 180.38H51.3 M44 150.35H51.3 M44 120.33H51.3 M44 90.30H51.3 M44 60.28H51.3 M126.65 390.5V397.4 M202.09 390.5V397.4 M277.54 390.5V397.4 M352.98 390.5V397.4 M428.43 390.5V397.4 M503.88 390.5V397.4 M579.32 390.5V397.4 M654.77 390.5V397.4 M730.21 390.5V397.4 M805.66 390.5V397.4 M881.11 390.5V397.4 M956.55 390.5V397.4 M959 360.53H966.4 M959 330.50H966.4 M959 300.48H966.4 M959 270.45H966.4 M959 240.43H966.4 M959 390.5H966.4 M44 670.56H51.3 M44 648.73H51.3 M44 626.89H51.3 M44 605.06H51.3 M44 583.22H51.3 M44 561.39H51.3 M44 539.55H51.3 M959 692.40H966.2 M959 670.56H966.2 M959 648.73H966.2 M959 626.89H966.2 M959 605.06H966.2 M959 583.22H966.2 M959 561.39H966.2 M959 539.55H966.2" stroke="#000" stroke-width="1.5" fill="none"/>
<rect x="741.5" y="0.5" width="217" height="28" fill="#fff" stroke="#7d7d7d" stroke-width="1"/>
<text x="24.7" y="14.9" font-size="15.6" fill="#000" textLength="11.6" lengthAdjust="spacingAndGlyphs">H</text>
<text x="18.6" y="34.8" font-size="15.6" fill="#000" textLength="23.6" lengthAdjust="spacingAndGlyphs">[m]</text>
<text x="29.5" y="395.4" font-size="15.6" fill="#000" textLength="9.2" lengthAdjust="spacingAndGlyphs">0</text>
<text x="29.5" y="365.4" font-size="15.6" fill="#000" textLength="9.2" lengthAdjust="spacingAndGlyphs">2</text>
<text x="29.5" y="335.4" font-size="15.6" fill="#000" textLength="9.2" lengthAdjust="spacingAndGlyphs">4</text>
<text x="29.5" y="305.4" font-size="15.6" fill="#000" textLength="9.2" lengthAdjust="spacingAndGlyphs">6</text>
<text x="29.5" y="275.4" font-size="15.6" fill="#000" textLength="9.2" lengthAdjust="spacingAndGlyphs">8</text>
<text x="20.5" y="245.3" font-size="15.6" fill="#000" textLength="18.2" lengthAdjust="spacingAndGlyphs">10</text>
<text x="20.5" y="215.3" font-size="15.6" fill="#000" textLength="18.2" lengthAdjust="spacingAndGlyphs">12</text>
<text x="20.5" y="185.3" font-size="15.6" fill="#000" textLength="18.2" lengthAdjust="spacingAndGlyphs">14</text>
<text x="20.5" y="155.3" font-size="15.6" fill="#000" textLength="18.2" lengthAdjust="spacingAndGlyphs">16</text>
<text x="20.5" y="125.2" font-size="15.6" fill="#000" textLength="18.2" lengthAdjust="spacingAndGlyphs">18</text>
<text x="20.5" y="95.2" font-size="15.6" fill="#000" textLength="18.2" lengthAdjust="spacingAndGlyphs">20</text>
<text x="20.5" y="65.2" font-size="15.6" fill="#000" textLength="18.2" lengthAdjust="spacingAndGlyphs">22</text>
<text x="46.4" y="413.0" font-size="15.6" fill="#000" textLength="9.2" lengthAdjust="spacingAndGlyphs">0</text>
<text x="117.4" y="413.0" font-size="15.6" fill="#000" textLength="18.0" lengthAdjust="spacingAndGlyphs">10</text>
<text x="192.9" y="413.0" font-size="15.6" fill="#000" textLength="18.0" lengthAdjust="spacingAndGlyphs">20</text>
<text x="268.3" y="413.0" font-size="15.6" fill="#000" textLength="18.0" lengthAdjust="spacingAndGlyphs">30</text>
<text x="343.8" y="413.0" font-size="15.6" fill="#000" textLength="18.0" lengthAdjust="spacingAndGlyphs">40</text>
<text x="419.2" y="413.0" font-size="15.6" fill="#000" textLength="18.0" lengthAdjust="spacingAndGlyphs">50</text>
<text x="494.7" y="413.0" font-size="15.6" fill="#000" textLength="18.0" lengthAdjust="spacingAndGlyphs">60</text>
<text x="570.1" y="413.0" font-size="15.6" fill="#000" textLength="18.0" lengthAdjust="spacingAndGlyphs">70</text>
<text x="645.6" y="413.0" font-size="15.6" fill="#000" textLength="18.0" lengthAdjust="spacingAndGlyphs">80</text>
<text x="721.0" y="413.0" font-size="15.6" fill="#000" textLength="18.0" lengthAdjust="spacingAndGlyphs">90</text>
<text x="791.5" y="413.0" font-size="15.6" fill="#000" textLength="28.0" lengthAdjust="spacingAndGlyphs">100</text>
<text x="887.6" y="412.8" font-size="15.6" fill="#000" textLength="62.7" lengthAdjust="spacingAndGlyphs">Q [m³/h]</text>
<text x="970.9" y="395.4" font-size="15.6" fill="#000" textLength="9.2" lengthAdjust="spacingAndGlyphs">0</text>
<text x="970.9" y="365.4" font-size="15.6" fill="#000" textLength="18.0" lengthAdjust="spacingAndGlyphs">20</text>
<text x="970.9" y="335.4" font-size="15.6" fill="#000" textLength="18.0" lengthAdjust="spacingAndGlyphs">40</text>
<text x="970.9" y="305.4" font-size="15.6" fill="#000" textLength="18.0" lengthAdjust="spacingAndGlyphs">60</text>
<text x="970.9" y="275.4" font-size="15.6" fill="#000" textLength="18.0" lengthAdjust="spacingAndGlyphs">80</text>
<text x="970.9" y="245.3" font-size="15.6" fill="#000" textLength="28.0" lengthAdjust="spacingAndGlyphs">100</text>
<text x="968.9" y="14.5" font-size="15.6" fill="#000" textLength="23.9" lengthAdjust="spacingAndGlyphs">eta</text>
<text x="968.2" y="35.1" font-size="15.6" fill="#000" textLength="25.4" lengthAdjust="spacingAndGlyphs">[%]</text>
<text x="747.2" y="18.8" font-size="15.6" fill="#000" textLength="191.1" lengthAdjust="spacingAndGlyphs">NBE 80-250/225, 3*400 V</text>
<text x="470.4" y="73.6" font-size="16" fill="#000" textLength="46.1" lengthAdjust="spacingAndGlyphs">110 %</text>
<text x="444.0" y="126.0" font-size="16" fill="#000" textLength="45.5" lengthAdjust="spacingAndGlyphs" stroke="#000" stroke-width="0.5">100 %</text>
<text x="185.0" y="359.5" font-size="16" fill="#000" textLength="37.5" lengthAdjust="spacingAndGlyphs">30 %</text>
<text x="54.0" y="438.9" font-size="15.6" fill="#000" textLength="104.2" lengthAdjust="spacingAndGlyphs">Q = 91.3 m³/h</text>
<text x="54.0" y="460.7" font-size="15.6" fill="#000" textLength="160.3" lengthAdjust="spacingAndGlyphs">n = 100 % / 1450 rpm</text>
<text x="54.0" y="481.9" font-size="15.6" fill="#000" textLength="330.0" lengthAdjust="spacingAndGlyphs">Liquid temperature during operation = 20 °C</text>
<text x="54.0" y="503.2" font-size="15.6" fill="#000" textLength="142.5" lengthAdjust="spacingAndGlyphs">Eta pump = 78.6 %</text>
<text x="439.0" y="438.9" font-size="15.6" fill="#000" textLength="83.3" lengthAdjust="spacingAndGlyphs">H = 15.3 m</text>
<text x="439.0" y="460.7" font-size="15.6" fill="#000" textLength="170.4" lengthAdjust="spacingAndGlyphs">Pumped liquid = Water</text>
<text x="439.0" y="481.9" font-size="15.6" fill="#000" textLength="167.1" lengthAdjust="spacingAndGlyphs">Density = 998.2 kg/m³</text>
<text x="439.0" y="503.2" font-size="15.6" fill="#000" textLength="312.2" lengthAdjust="spacingAndGlyphs">Eta pump+motor+freq.converter = 72.5 %</text>
<text x="54.0" y="719.1" font-size="15.6" fill="#000" textLength="287.1" lengthAdjust="spacingAndGlyphs">P1 (motor+freq.converter) = 5.238 kW</text>
<text x="54.0" y="739.8" font-size="15.6" fill="#000" textLength="111.5" lengthAdjust="spacingAndGlyphs">P2 = 4.831 kW</text>
<text x="54.0" y="761.6" font-size="15.6" fill="#000" textLength="116.2" lengthAdjust="spacingAndGlyphs">NPSH = 1.02 m</text>
<text x="19.6" y="532.6" font-size="15.6" fill="#000" textLength="11.4" lengthAdjust="spacingAndGlyphs">P</text>
<text x="8.0" y="551.6" font-size="15.6" fill="#000" textLength="34.0" lengthAdjust="spacingAndGlyphs">[kW]</text>
<text x="28.7" y="697.4" font-size="15.6" fill="#000" textLength="9.6" lengthAdjust="spacingAndGlyphs">0</text>
<text x="970.5" y="697.4" font-size="15.6" fill="#000" textLength="10.4" lengthAdjust="spacingAndGlyphs">0</text>
<text x="28.7" y="675.6" font-size="15.6" fill="#000" textLength="9.6" lengthAdjust="spacingAndGlyphs">1</text>
<text x="970.5" y="675.6" font-size="15.6" fill="#000" textLength="10.4" lengthAdjust="spacingAndGlyphs">1</text>
<text x="28.7" y="653.7" font-size="15.6" fill="#000" textLength="9.6" lengthAdjust="spacingAndGlyphs">2</text>
<text x="970.5" y="653.7" font-size="15.6" fill="#000" textLength="10.4" lengthAdjust="spacingAndGlyphs">2</text>
<text x="28.7" y="631.9" font-size="15.6" fill="#000" textLength="9.6" lengthAdjust="spacingAndGlyphs">3</text>
<text x="970.5" y="631.9" font-size="15.6" fill="#000" textLength="10.4" lengthAdjust="spacingAndGlyphs">3</text>
<text x="28.7" y="610.1" font-size="15.6" fill="#000" textLength="9.6" lengthAdjust="spacingAndGlyphs">4</text>
<text x="970.5" y="610.1" font-size="15.6" fill="#000" textLength="10.4" lengthAdjust="spacingAndGlyphs">4</text>
<text x="28.7" y="588.2" font-size="15.6" fill="#000" textLength="9.6" lengthAdjust="spacingAndGlyphs">5</text>
<text x="970.5" y="588.2" font-size="15.6" fill="#000" textLength="10.4" lengthAdjust="spacingAndGlyphs">5</text>
<text x="967.8" y="533.0" font-size="15.6" fill="#000" textLength="46.0" lengthAdjust="spacingAndGlyphs">NPSH</text>
<text x="978.8" y="552.3" font-size="15.6" fill="#000" textLength="23.0" lengthAdjust="spacingAndGlyphs">[m]</text>
<text x="669.3" y="556.0" font-size="15.6" fill="#1a5792" textLength="195.2" lengthAdjust="spacingAndGlyphs">P1 (motor+freq.converter)</text>
<text x="851.8" y="588.6" font-size="15.6" fill="#1a5792" textLength="19.2" lengthAdjust="spacingAndGlyphs">P2</text>
</svg>
</body></html>
